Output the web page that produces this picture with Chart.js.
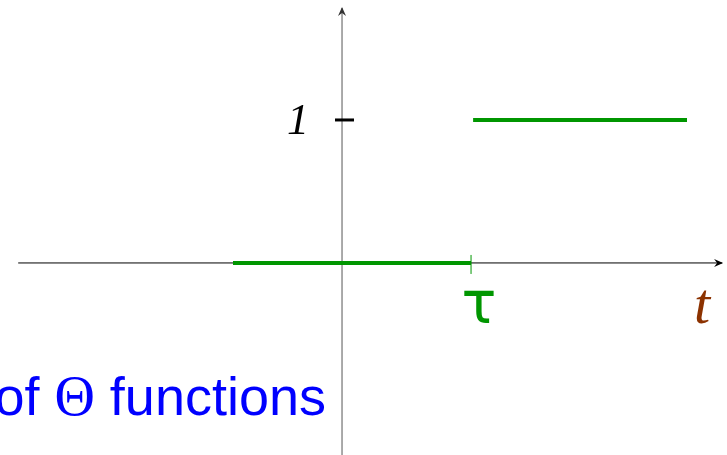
<!DOCTYPE html>
<html lang="en">
<head>
<meta charset="UTF-8">
<title>Step function</title>
<script src="https://cdn.jsdelivr.net/npm/chart.js"></script>
<style>
    html, body { margin: 0; padding: 0; background: #fff; }
    #stepChart { display: block; }
</style>
</head>
<body>
<canvas id="stepChart" width="727" height="455"></canvas>
<script>
    // tau is the unit on the t axis, the step height is the unit on the vertical axis
    const tau = 1;
    const lowerX = [-0.845, tau];
    const lowerY = [0, 0];
    const upperX = [1.016, 2.674];
    const upperY = [1, 1];
    const yTicks = [1];
    const yTickLabels = ['1'];

    // visible range of the axes
    const xRange = [-2.651, 2.984];
    const yRange = [-1.343, 1.839];
    const xAxisLine = [-2.51, 2.946];
    const yAxisLine = [-1.343, 1.783];

    const green = 'rgb(0,150,0)';

    function pts(xs, ys) {
        return xs.map((x, i) => ({ x: x, y: ys[i] }));
    }

    // arrows, tick marks and labels, placed through the chart scales
    const decorations = {
        id: 'decorations',
        afterDatasetsDraw(chart) {
            const ctx = chart.ctx;
            const xs = chart.scales.x, ys = chart.scales.y;
            const x0 = xs.getPixelForValue(0), y0 = ys.getPixelForValue(0);
            ctx.save();

            // arrow heads
            const xe = xs.getPixelForValue(xAxisLine[1]);
            ctx.fillStyle = '#000';
            ctx.beginPath();
            ctx.moveTo(xe + 1, y0);
            ctx.lineTo(xe - 8, y0 - 4);
            ctx.lineTo(xe - 5, y0);
            ctx.lineTo(xe - 8, y0 + 4);
            ctx.closePath();
            ctx.fill();
            const ye = ys.getPixelForValue(yAxisLine[1]);
            ctx.fillStyle = '#333';
            ctx.beginPath();
            ctx.moveTo(x0, ye - 1);
            ctx.lineTo(x0 - 4, ye + 8);
            ctx.lineTo(x0, ye + 5);
            ctx.lineTo(x0 + 4, ye + 8);
            ctx.closePath();
            ctx.fill();

            // y ticks
            ctx.strokeStyle = '#000';
            ctx.lineWidth = 3;
            ctx.fillStyle = '#000';
            ctx.font = 'italic 44px "Liberation Serif", serif';
            ctx.textAlign = 'center';
            ctx.textBaseline = 'middle';
            yTicks.forEach((v, i) => {
                const py = ys.getPixelForValue(v);
                ctx.beginPath();
                ctx.moveTo(x0 - 7, py);
                ctx.lineTo(x0 + 12, py);
                ctx.stroke();
                ctx.fillText(yTickLabels[i], x0 - 44, py + 2);
            });

            // tau tick and label
            const xt = xs.getPixelForValue(tau);
            ctx.strokeStyle = green;
            ctx.lineWidth = 1;
            ctx.beginPath();
            ctx.moveTo(xt, y0 - 8);
            ctx.lineTo(xt, y0 + 11);
            ctx.stroke();
            ctx.fillStyle = green;
            ctx.font = '58px "DejaVu Sans", sans-serif';
            ctx.textAlign = 'center';
            ctx.textBaseline = 'alphabetic';
            ctx.fillText('\u03c4', xt + 8, y0 + 60);

            // t axis label
            ctx.fillStyle = 'rgb(140,50,0)';
            ctx.font = 'italic 58px "Liberation Serif", serif';
            ctx.fillText('t', xs.getPixelForValue(2.79), y0 + 60);

            // caption, serif Theta between sans words
            const sans = '54px "Liberation Sans", sans-serif';
            const serif = '56px "Liberation Serif", serif';
            const parts = [['of ', sans], ['\u0398', serif], [' functions', sans]];
            let w = 0;
            parts.forEach(p => { ctx.font = p[1]; w += ctx.measureText(p[0]).width; });
            let cx = 326 - w;
            ctx.fillStyle = '#0000ff';
            ctx.textAlign = 'left';
            parts.forEach(p => {
                ctx.font = p[1];
                ctx.fillText(p[0], cx, 415);
                cx += ctx.measureText(p[0]).width;
            });
            ctx.restore();
        }
    };

    new Chart(document.getElementById('stepChart'), {
        type: 'scatter',
        data: {
            datasets: [
                {
                    data: pts(lowerX, lowerY),
                    showLine: true, borderColor: green, borderWidth: 4,
                    pointRadius: 0, order: 0
                },
                {
                    data: pts(upperX, upperY),
                    showLine: true, borderColor: green, borderWidth: 4,
                    pointRadius: 0, order: 0
                },
                {
                    data: pts(xAxisLine, [0, 0]),
                    showLine: true, borderColor: '#000', borderWidth: 1,
                    pointRadius: 0, order: 2
                },
                {
                    data: pts([0, 0], yAxisLine),
                    showLine: true, borderColor: '#555', borderWidth: 1,
                    pointRadius: 0, order: 2
                }
            ]
        },
        options: {
            responsive: false,
            animation: false,
            layout: { padding: 0 },
            plugins: { legend: { display: false }, tooltip: { enabled: false } },
            scales: {
                x: { type: 'linear', display: false, min: xRange[0], max: xRange[1] },
                y: { type: 'linear', display: false, min: yRange[0], max: yRange[1] }
            }
        },
        plugins: [decorations]
    });
</script>
</body>
</html>
